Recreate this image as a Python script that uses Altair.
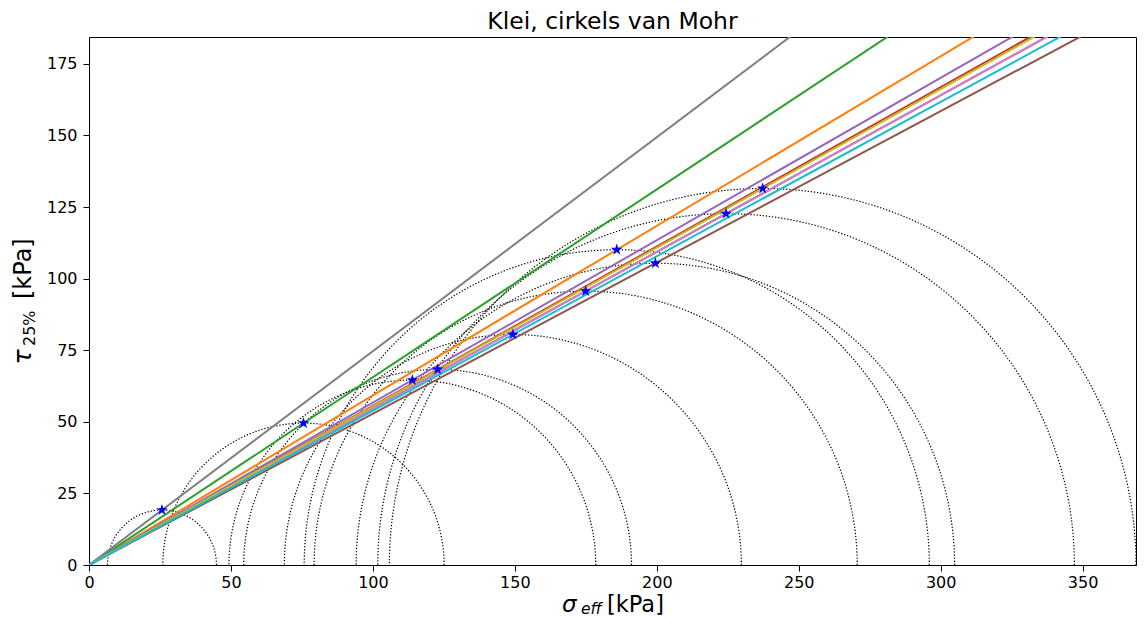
import altair as alt
import numpy as np
import pandas as pd

# ---- data (kPa) ----
# Mohr circles: centre (sigma) and radius (tau); line i goes through (centre, radius)
sigma_center = [224.4, 185.9, 75.55, 122.8, 113.9, 199.5, 174.95, 25.7, 237.3, 149.3]
tau_radius = [122.7, 110.1, 49.55, 68.3, 64.6, 105.4, 95.65, 19.2, 131.5, 80.5]
line_colors = ["#1f77b4", "#ff7f0e", "#2ca02c", "#d62728", "#9467bd",
               "#8c564b", "#e377c2", "#7f7f7f", "#bcbd22", "#17becf"]
x_ticks = [0, 50, 100, 150, 200, 250, 300, 350]
y_ticks = [0, 25, 50, 75, 100, 125, 150, 175]
x_max = 368.8
y_max = 184.4
line_end_sigma = 380.0

FONT = "DejaVu Sans"
W, H = 1047, 528

# circle outlines
rows = []
theta = np.linspace(0, np.pi, 241)
for i, (c, r) in enumerate(zip(sigma_center, tau_radius)):
    for k, t in enumerate(theta):
        rows.append({"circle": i, "k": k, "x": c + r * np.cos(t), "y": r * np.sin(t)})
circ_df = pd.DataFrame(rows)

xs = alt.X("x:Q", scale=alt.Scale(domain=[0, x_max], nice=False, zero=False),
           axis=alt.Axis(values=x_ticks, title=None, grid=False, labelFlush=False,
                         labelFont=FONT, labelFontSize=16, labelColor="black",
                         tickColor="black", domainColor="black", tickSize=6,
                         labelPadding=3, domainWidth=1, tickWidth=1))
ys = alt.Y("y:Q", scale=alt.Scale(domain=[0, y_max], nice=False, zero=False),
           axis=alt.Axis(values=y_ticks, title=None, grid=False,
                         labelFont=FONT, labelFontSize=16, labelColor="black",
                         tickColor="black", domainColor="black", tickSize=6,
                         labelPadding=6, domainWidth=1, tickWidth=1))

layers = []
layers.append(
    alt.Chart(circ_df).mark_line(color="black", strokeWidth=1.2, strokeDash=[1.3, 1.8], clip=True)
    .encode(x=xs, y=ys, detail="circle:N", order="k:Q")
)

for i, (c, r) in enumerate(zip(sigma_center, tau_radius)):
    ldf = pd.DataFrame({"x": [0.0, line_end_sigma], "y": [0.0, line_end_sigma * r / c]})
    layers.append(
        alt.Chart(ldf).mark_line(color=line_colors[i], strokeWidth=2, clip=True)
        .encode(x=xs, y=ys)
    )

star_path = ("M0,-1L0.2245,-0.309L0.951,-0.309L0.363,0.118L0.588,0.809L0,0.382"
             "L-0.588,0.809L-0.363,0.118L-0.951,-0.309L-0.2245,-0.309Z")
star_df = pd.DataFrame({"x": sigma_center, "y": tau_radius})
layers.append(
    alt.Chart(star_df).mark_point(shape=star_path, filled=True, color="#0000ff",
                                  size=150, opacity=1, clip=True)
    .encode(x=xs, y=ys)
)

one = pd.DataFrame({"a": [0]})

def txt(s, px, py, size, style="normal", angle=0, align="left", baseline="alphabetic"):
    return alt.Chart(one).mark_text(text=s, font=FONT, fontSize=size, fontStyle=style,
                                    angle=angle, align=align, baseline=baseline,
                                    color="black").encode(x=alt.value(px), y=alt.value(py))

# title
layers.append(txt("Klei, cirkels van Mohr", W / 2, -8.5, 23.5, align="center"))
# x-axis title: sigma_eff [kPa]
layers.append(txt("σ", 473, 575, 23, style="italic"))
layers.append(txt("eff", 492, 577, 15.5, style="italic"))
layers.append(txt("[kPa]", 518, 575, 22.5))
# y-axis title: tau_25% [kPa]
layers.append(txt("τ", -58, 327.5, 25, style="italic", angle=270))
layers.append(txt("25%", -54, 309, 16, angle=270))
layers.append(txt("[kPa]", -58, 262, 24, angle=270))

chart = alt.layer(*layers).properties(
    width=W, height=H,
    autosize=alt.AutoSizeParams(type="none"),
    padding={"left": 81, "top": 29, "right": 1, "bottom": 53},
).configure_view(stroke="black", strokeWidth=1)

chart.save("out.html", embed_options={"renderer": "svg", "actions": False})
